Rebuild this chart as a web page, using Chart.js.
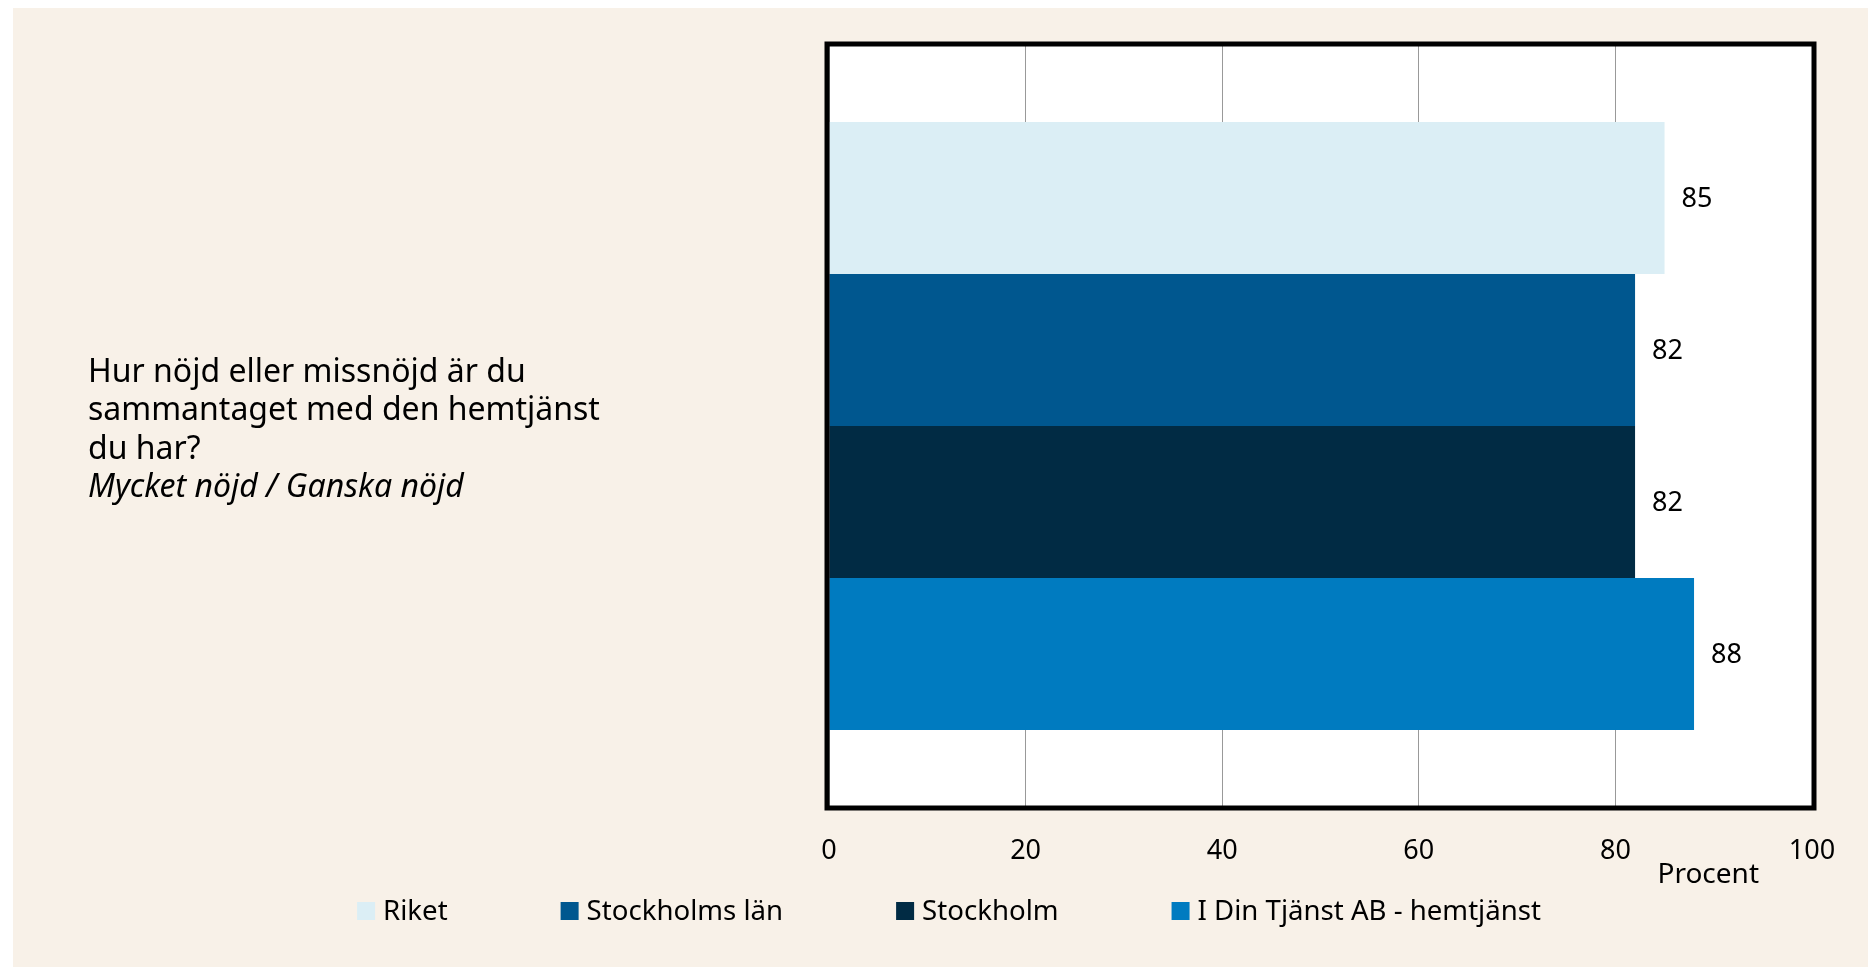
<!DOCTYPE html>
<html><head><meta charset="utf-8">
<script src="https://cdn.jsdelivr.net/npm/chart.js@4/dist/chart.umd.min.js"></script>
<style>html,body{margin:0;padding:0;background:#fff;overflow:hidden}#wrap{width:1868px;height:967px;position:relative}canvas{display:block}</style>
</head><body><div id="wrap"><canvas id="c" width="1868" height="967"></canvas></div>
<script>
const categories = ["Hur nöjd eller missnöjd är du sammantaget med den hemtjänst du har?"];
const questionLines = ["Hur nöjd eller missnöjd är du", "sammantaget med den hemtjänst", "du har?"];
const subtitle = "Mycket nöjd / Ganska nöjd";
const seriesNames = ["Riket", "Stockholms län", "Stockholm", "I Din Tjänst AB - hemtjänst"];
const riket = [85];
const stockholmsLan = [82];
const stockholm = [82];
const iDinTjanst = [88];
const seriesValues = [riket, stockholmsLan, stockholm, iDinTjanst];
const seriesColors = ["#DBEEF5", "#00578F", "#012B44", "#007BC0"];
const xTickValues = [0, 20, 40, 60, 80, 100];
const axisTitle = "Procent";

const FONT = "'Noto Sans', 'Open Sans', sans-serif";
const BEIGE = "#F8F1E8";

const decor = {
  id: 'decor',
  beforeDraw(chart) {
    const ctx = chart.ctx, ca = chart.chartArea;
    ctx.save();
    ctx.fillStyle = '#ffffff';
    ctx.fillRect(0, 0, chart.width, chart.height);
    ctx.fillStyle = BEIGE;
    ctx.fillRect(13, 8, chart.width - 13, chart.height - 8);
    ctx.fillStyle = '#ffffff';
    ctx.fillRect(ca.left, ca.top, ca.right - ca.left, ca.bottom - ca.top);
    ctx.restore();
  },
  afterDatasetsDraw(chart) {
    const ctx = chart.ctx, ca = chart.chartArea;
    ctx.save();
    // frame
    ctx.strokeStyle = '#000';
    ctx.lineWidth = 5;
    ctx.strokeRect(ca.left - 2, ca.top - 2, ca.right - ca.left + 4, ca.bottom - ca.top + 4);
    // value labels
    ctx.fillStyle = '#000';
    ctx.font = "27px " + FONT;
    ctx.textAlign = 'left';
    ctx.textBaseline = 'middle';
    chart.data.datasets.forEach((ds, i) => {
      const meta = chart.getDatasetMeta(i);
      meta.data.forEach((bar, j) => {
        ctx.fillText(String(ds.data[j]), bar.x + 17, bar.y + 1);
      });
    });
    // question text (category label)
    ctx.font = "32px " + FONT;
    ctx.textBaseline = 'alphabetic';
    const x0 = 88;
    let yb = 382;
    questionLines.forEach(l => { ctx.fillText(l, x0, yb); yb += 38.4; });
    ctx.font = "italic 32px " + FONT;
    ctx.fillText(subtitle, x0, yb);
    // axis title
    ctx.font = "28px " + FONT;
    ctx.textAlign = 'right';
    ctx.textBaseline = 'middle';
    ctx.fillText(axisTitle, 1759, 875);
    // legend
    ctx.font = "27.6px " + FONT;
    ctx.textAlign = 'left';
    const gap = 113, box = 18, boxGap = 8;
    const widths = chart.data.datasets.map(ds => box + boxGap + ctx.measureText(ds.label).width);
    const total = widths.reduce((a, b) => a + b, 0) + gap * (widths.length - 1);
    let lx = 949 - total / 2;
    const ly = 911;
    chart.data.datasets.forEach((ds, i) => {
      ctx.fillStyle = ds.backgroundColor;
      ctx.fillRect(lx, ly - 9, box, box);
      ctx.fillStyle = '#000';
      ctx.fillText(ds.label, lx + box + boxGap, ly + 1);
      lx += widths[i] + gap;
    });
    ctx.restore();
  }
};

new Chart(document.getElementById('c'), {
  type: 'bar',
  data: {
    labels: categories,
    datasets: seriesNames.map((n, i) => ({
      label: n,
      data: seriesValues[i],
      backgroundColor: seriesColors[i],
      borderWidth: 0,
      categoryPercentage: 0.8,
      barPercentage: 1.0
    }))
  },
  options: {
    indexAxis: 'y',
    responsive: false,
    animation: false,
    devicePixelRatio: 1,
    layout: { padding: { left: 0, right: 56, top: 46, bottom: 0 } },
    plugins: { legend: { display: false }, tooltip: { enabled: false }, title: { display: false } },
    scales: {
      x: {
        type: 'linear',
        min: 0, max: 100,
        afterBuildTicks(s) { s.ticks = xTickValues.map(v => ({ value: v })); },
        afterFit(s) { s.height = 161; },
        ticks: { font: { family: FONT, size: 27 }, color: '#000', padding: 29, maxRotation: 0 },
        grid: { color: '#999999', lineWidth: 1, drawTicks: false },
        border: { display: false }
      },
      y: {
        afterFit(s) { s.width = 829; },
        ticks: { display: false },
        grid: { display: false },
        border: { display: false }
      }
    }
  },
  plugins: [decor]
});
</script>
</body></html>
